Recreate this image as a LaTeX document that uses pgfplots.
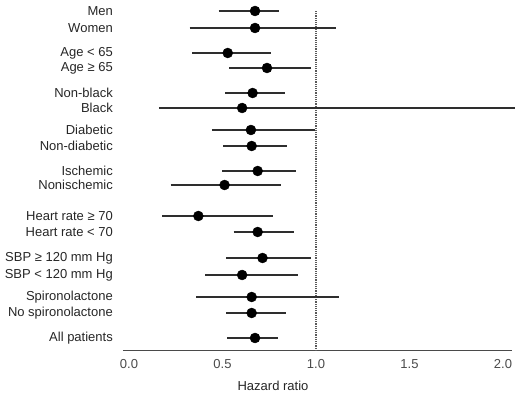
\documentclass[border=0pt]{standalone}
\usepackage{pgfplots}
\usepackage{pgfplotstable}
\pgfplotsset{compat=1.18}
\usepackage{fontspec}
\setmainfont{Liberation Sans}
\definecolor{txt}{HTML}{262626}
\definecolor{tick}{HTML}{4A4A4A}
\definecolor{ci}{HTML}{2E2E2E}
\pgfplotstableread{
y hr
-11 0.674
-28 0.674
-53 0.528
-68 0.738
-93 0.661
-108 0.605
-130 0.652
-146 0.656
-171 0.688
-185 0.511
-216 0.371
-232 0.688
-258 0.714
-275 0.605
-297 0.656
-313 0.656
-338 0.674
}\pointtable
\pgfplotstableread{
x y
0.479 -11
0.803 -11
nan nan
0.324 -28
1.105 -28
nan nan
0.339 -53
0.759 -53
nan nan
0.537 -68
0.975 -68
nan nan
0.516 -93
0.832 -93
nan nan
0.160 -108
2.065 -108
nan nan
0.443 -130
0.997 -130
nan nan
0.505 -146
0.844 -146
nan nan
0.498 -171
0.892 -171
nan nan
0.223 -185
0.812 -185
nan nan
0.177 -216
0.768 -216
nan nan
0.560 -232
0.885 -232
nan nan
0.520 -258
0.972 -258
nan nan
0.408 -275
0.906 -275
nan nan
0.360 -297
1.122 -297
nan nan
0.520 -313
0.839 -313
nan nan
0.525 -338
0.796 -338
}\citable
\begin{document}
\begin{tikzpicture}
\useasboundingbox (0,0) rectangle (523pt,398pt);
\begin{axis}[
  at={(123pt,47pt)}, anchor=south west,
  scale only axis, width=389pt, height=351pt,
  xmin=-0.032, xmax=2.048, ymin=-351, ymax=0,
  clip=false,
  axis x line*=bottom, axis y line*=left,
  y axis line style={draw=none},
  x axis line style={draw=tick, line width=1pt},
  major tick length=0pt,
  xtick={0,0.5,1,1.5,2},
  xticklabels={0.0,0.5,1.0,1.5,2.0},
  xticklabel style={font=\fontsize{13}{15}\selectfont, text=tick, anchor=north, inner sep=0pt, yshift=-8.5pt},
  ytick={-11,-28,-53,-68,-93,-108,-130,-146,-171,-185,-216,-232,-258,-275,-297,-313,-338},
  yticklabels={Men,Women,Age < 65,Age ≥ 65,Non-black,Black,Diabetic,Non-diabetic,Ischemic,Nonischemic,Heart rate ≥ 70,Heart rate < 70,SBP ≥ 120 mm Hg,SBP < 120 mm Hg,Spironolactone,No spironolactone,All patients},
  yticklabel style={font=\fontsize{13}{15}\selectfont, text=txt, anchor=east, inner sep=0pt, xshift=-10pt},
  xlabel={Hazard ratio},
  xlabel style={font=\fontsize{13}{15}\selectfont, text=txt, at={(axis description cs:0.3856,0)}, anchor=center, yshift=-35pt},
  /pgf/number format/assume math mode=true,
  unbounded coords=jump,
]
\addplot[draw=black!65, line width=2.2pt, dash pattern=on 1.2pt off 1pt] coordinates {(1,-351) (1,-10)};
\addplot[draw=ci, line width=2.4pt, mark=none] table[x=x, y=y] {\citable};
\addplot[only marks, mark=*, mark size=5pt, mark options={fill=black, draw=black}]
  table[x=hr, y=y] {\pointtable};
\end{axis}
\end{tikzpicture}
\end{document}
